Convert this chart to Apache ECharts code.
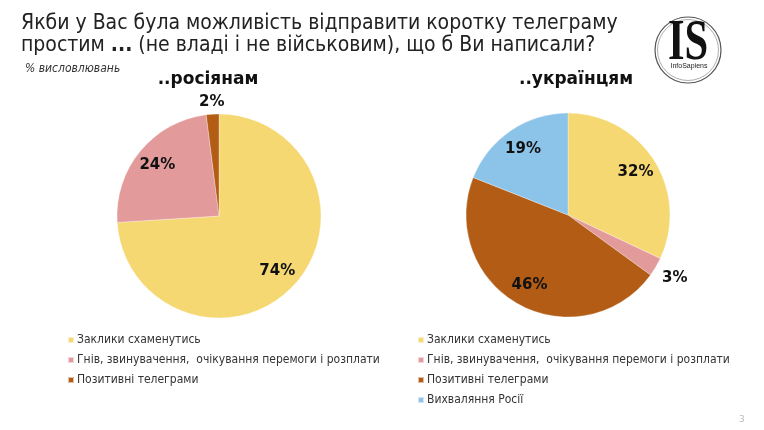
<!DOCTYPE html>
<html>
<head>
<meta charset="utf-8">
<script src="https://cdn.jsdelivr.net/npm/echarts@6/dist/echarts.min.js"></script>
<style>
  html, body { margin: 0; padding: 0; background: #fff; }
  #chart { width: 764px; height: 430px; }
</style>
</head>
<body>
<div id="chart"></div>
<script>
// дані
var catsRu = ['Заклики схаменутись', 'Гнів, звинувачення,  очікування перемоги і розплати', 'Позитивні телеграми'];
var valsRu = [74, 24, 2];
var catsUa = ['Заклики схаменутись', 'Гнів, звинувачення,  очікування перемоги і розплати', 'Позитивні телеграми', 'Вихваляння Росії'];
var valsUa = [32, 3, 46, 19];
var colors = ['#F6D873', '#E39A9B', '#B35C16', '#8CC3E8'];

var chart = echarts.init(document.getElementById('chart'));

var R = 102;
var labelFont = { fontFamily: 'DejaVu Sans', fontWeight: 'bold', fontSize: 15, color: '#111' };

// small slices get their label on the outer ring
var isSmall = function (v) { return v < 5; };

var makeData = function (cats, vals, mode) {
  var out = [];
  for (var i = 0; i < cats.length; i++) {
    var item = { name: cats[i], value: vals[i], itemStyle: { color: colors[i] } };
    var show = mode === 'inner' ? !isSmall(vals[i]) : isSmall(vals[i]);
    if (mode !== 'base') {
      item.itemStyle = { color: 'rgba(0,0,0,0)' };
      item.label = { show: show };
    }
    out.push(item);
  }
  return out;
};

var makePie = function (cats, vals, center, outerR2) {
  var base = {
    type: 'pie', center: center, radius: [0, R], silent: true,
    label: { show: false }, labelLine: { show: false },
    itemStyle: { borderColor: 'rgba(255,255,255,0.6)', borderWidth: 0.5 },
    data: makeData(cats, vals, 'base')
  };
  var inner = {
    type: 'pie', center: center, radius: [52, R], silent: true, z: 3,
    label: Object.assign({ show: true, position: 'inside', formatter: '{c}%' }, labelFont),
    labelLine: { show: false },
    data: makeData(cats, vals, 'inner')
  };
  var outer = {
    type: 'pie', center: center, radius: [R, outerR2], silent: true, z: 3,
    label: Object.assign({ show: true, position: 'inside', formatter: '{c}%' }, labelFont),
    labelLine: { show: false },
    data: makeData(cats, vals, 'outer')
  };
  return [base, inner, outer];
};

var legendItems = function (cats) {
  var out = [];
  for (var i = 0; i < cats.length; i++) {
    out.push({ name: cats[i], itemStyle: { color: colors[i] } });
  }
  return out;
};

var legendBase = {
  orient: 'vertical', itemWidth: 6, itemHeight: 6, itemGap: 8, icon: 'rect',
  selectedMode: false,
  textStyle: { fontFamily: 'DejaVu Sans Condensed', fontSize: 12, color: '#333', padding: [0, 0, 0, -2] }
};

var option = {
  backgroundColor: '#fff',
  animation: false,
  title: [
    {
      text: 'Якби у Вас була можливість відправити коротку телеграму\nпростим {b|...} (не владі і не військовим), що б Ви написали?',
      left: 16, top: 8,
      textStyle: {
        fontFamily: 'DejaVu Sans Condensed', fontSize: 21, fontWeight: 'normal', color: '#222', lineHeight: 22,
        rich: { b: { fontFamily: 'DejaVu Sans Condensed', fontSize: 21, fontWeight: 'bold', color: '#222', lineHeight: 22 } }
      }
    },
    {
      text: '% висловлювань', left: 20, top: 58,
      textStyle: { fontFamily: 'DejaVu Sans Condensed', fontSize: 12, fontStyle: 'italic', fontWeight: 'normal', color: '#333' }
    },
    {
      text: '..росіянам', left: 203, top: 66, textAlign: 'center',
      textStyle: { fontFamily: 'DejaVu Sans', fontSize: 17, fontWeight: 'bold', color: '#111' }
    },
    {
      text: '..українцям', left: 571, top: 66, textAlign: 'center',
      textStyle: { fontFamily: 'DejaVu Sans', fontSize: 17, fontWeight: 'bold', color: '#111' }
    },
    {
      text: '3', left: 734, top: 410,
      textStyle: { fontFamily: 'DejaVu Sans', fontSize: 9, fontWeight: 'normal', color: '#bbb' }
    }
  ],
  legend: [
    Object.assign({ left: 62, top: 329, data: legendItems(catsRu) }, legendBase),
    Object.assign({ left: 412, top: 329, data: legendItems(catsUa) }, legendBase)
  ],
  graphic: [
    { type: 'circle', shape: { cx: 688, cy: 50, r: 33 }, style: { fill: 'none', stroke: '#555', lineWidth: 1.2 } },
    { type: 'circle', shape: { cx: 688, cy: 50, r: 30.5 }, style: { fill: 'none', stroke: '#999', lineWidth: 0.8 } },
    { type: 'text', x: 688, y: 45, scaleX: 0.76, style: { x: 0, y: 0, text: 'IS', align: 'center', verticalAlign: 'middle', font: 'bold 56px "Liberation Serif"', fill: '#111' } },
    { type: 'text', x: 689, y: 66, style: { x: 0, y: 0, text: 'InfoSapiens', align: 'center', verticalAlign: 'middle', font: '7px "Liberation Sans"', fill: '#222' } }
  ],
  series: [].concat(
    makePie(catsRu, valsRu, [219, 216], 120),
    makePie(catsUa, valsUa, [568, 215], 140)
  )
};

chart.setOption(option);
</script>
</body>
</html>
